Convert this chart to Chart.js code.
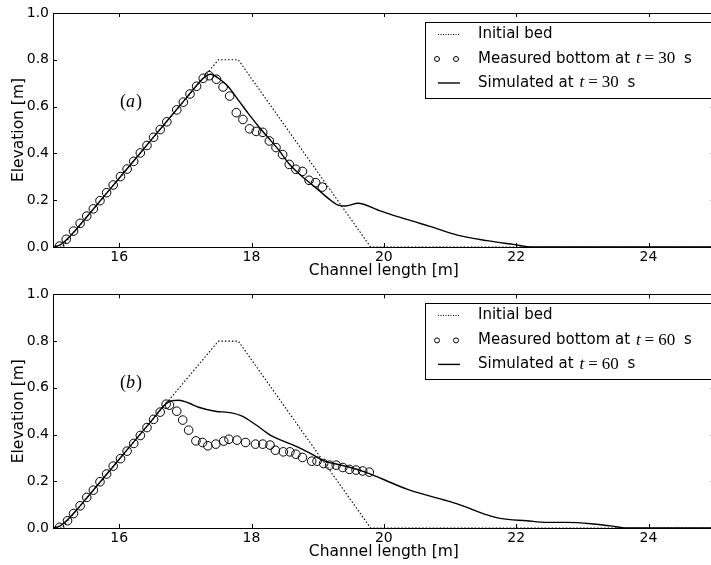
<!DOCTYPE html>
<html>
<head>
<meta charset="utf-8">
<script src="https://cdn.jsdelivr.net/npm/chart.js@4.4.0/dist/chart.umd.min.js"></script>
<style>
html, body { margin: 0; padding: 0; background: #fff; overflow: hidden; width: 711px; height: 565px; }
canvas { position: absolute; left: 0; }
#c1 { top: 0; }
#c2 { top: 282px; }
</style>
</head>
<body>
<canvas id="c1" width="720" height="282"></canvas>
<canvas id="c2" width="720" height="283"></canvas>
<script>
// tick values
var xTicks = [16, 18, 20, 22, 24];
var yTicks = [0, 0.2, 0.4, 0.6, 0.8, 1.0];

// initial bed (same for both panels)
var bedX = [15, 15.13, 17.5, 17.8, 19.8, 25];
var bedY = [0, 0, 0.8, 0.8, 0, 0];

// panel (a): t = 30 s
var measAX = [15.1, 15.2, 15.31, 15.41, 15.51, 15.61, 15.71, 15.81, 15.91, 16.02, 16.12, 16.22, 16.32, 16.42, 16.52, 16.62, 16.72, 16.87, 16.97, 17.07,
              17.17, 17.27, 17.36, 17.47, 17.57, 17.67, 17.77, 17.87, 17.97, 18.07, 18.17, 18.27, 18.37, 18.47, 18.57, 18.67, 18.77, 18.87, 18.97, 19.07];
var measAY = [0.004, 0.033, 0.068, 0.101, 0.132, 0.163, 0.198, 0.232, 0.265, 0.301, 0.333, 0.366, 0.402, 0.434, 0.469, 0.502, 0.535, 0.586, 0.619, 0.654,
              0.687, 0.721, 0.732, 0.717, 0.684, 0.645, 0.574, 0.545, 0.505, 0.494, 0.490, 0.453, 0.425, 0.395, 0.353, 0.332, 0.323, 0.285, 0.275, 0.256];
var simAX = [15, 15.1, 15.2, 15.35, 15.5, 16.0, 16.5, 17.0, 17.2, 17.3, 17.38, 17.5, 17.65, 17.8, 17.95, 18.11, 18.26, 18.41, 18.56, 18.71, 18.86,
             19.01, 19.16, 19.31, 19.42, 19.61, 19.91, 20.21, 20.5, 20.71, 21.11, 21.56, 21.96, 22.25, 25];
var simAY = [0, 0.008, 0.03, 0.075, 0.125, 0.294, 0.463, 0.632, 0.70, 0.728, 0.738, 0.721, 0.685, 0.628, 0.571, 0.514, 0.465, 0.415, 0.358, 0.315, 0.279,
             0.244, 0.208, 0.179, 0.175, 0.187, 0.158, 0.13, 0.105, 0.087, 0.051, 0.027, 0.011, 0, 0];

// panel (b): t = 60 s
var measBX = [15.1, 15.22, 15.31, 15.41, 15.51, 15.61, 15.71, 15.81, 15.91, 16.02, 16.12, 16.22, 16.32, 16.42, 16.52, 16.62, 16.71, 16.76, 16.87, 16.96,
              17.05, 17.16, 17.26, 17.34, 17.46, 17.58, 17.66, 17.78, 17.91, 18.06, 18.17, 18.28, 18.36, 18.48, 18.58, 18.67, 18.77, 18.91, 18.99, 19.09,
              19.18, 19.28, 19.38, 19.48, 19.58, 19.68, 19.78];
var measBY = [0.003, 0.031, 0.062, 0.095, 0.131, 0.162, 0.198, 0.231, 0.265, 0.297, 0.329, 0.362, 0.396, 0.430, 0.465, 0.496, 0.530, 0.526, 0.50, 0.462,
              0.419, 0.373, 0.366, 0.352, 0.359, 0.372, 0.380, 0.376, 0.366, 0.359, 0.359, 0.355, 0.333, 0.326, 0.326, 0.316, 0.302, 0.286, 0.286, 0.276,
              0.269, 0.269, 0.259, 0.251, 0.248, 0.244, 0.239];
var simBX = [15, 15.1, 15.2, 15.35, 15.5, 16.0, 16.5, 16.7, 16.8, 16.9, 17.05, 17.2, 17.45, 17.7, 17.85, 18.06, 18.31, 18.51, 18.71, 18.91, 19.11,
             19.31, 19.51, 19.71, 19.96, 20.36, 20.91, 21.16, 21.56, 21.76, 22.16, 22.46, 22.77, 23.17, 23.42, 23.67, 25];
var simBY = [0, 0.008, 0.03, 0.075, 0.125, 0.294, 0.463, 0.53, 0.545, 0.547, 0.535, 0.517, 0.50, 0.493, 0.48, 0.443, 0.393, 0.369, 0.345, 0.316, 0.286,
             0.272, 0.258, 0.24, 0.212, 0.165, 0.12, 0.098, 0.056, 0.041, 0.031, 0.024, 0.024, 0.017, 0.009, 0, 0];

var SANS = '"DejaVu Sans", sans-serif';
var SERIF = '"Liberation Serif", serif';

Chart.defaults.font.family = SANS;
Chart.defaults.font.size = 14;
Chart.defaults.color = '#000';

function pts(xs, ys) {
    return xs.map(function(x, i) { return {x: x, y: ys[i]}; });
}

// frame, inside ticks, legend box and panel label
var decor = {
    id: 'decor',
    afterDraw: function(chart) {
        var o = chart.options.plugins.decor;
        var ctx = chart.ctx, a = chart.chartArea;
        var xs = chart.scales.x, ys = chart.scales.y;
        ctx.save();
        ctx.strokeStyle = '#000';
        ctx.lineWidth = 1;
        ctx.strokeRect(Math.round(a.left) + 0.5, Math.round(a.top) + 0.5, Math.round(a.right - a.left), Math.round(a.bottom - a.top));
        ctx.beginPath();
        xTicks.forEach(function(v) {
            var px = Math.round(xs.getPixelForValue(v)) + 0.5;
            ctx.moveTo(px, a.bottom); ctx.lineTo(px, a.bottom - 4);
            ctx.moveTo(px, a.top); ctx.lineTo(px, a.top + 4);
        });
        yTicks.forEach(function(v) {
            var py = Math.round(ys.getPixelForValue(v)) + 0.5;
            ctx.moveTo(a.left, py); ctx.lineTo(a.left + 4, py);
            ctx.moveTo(a.right, py); ctx.lineTo(a.right - 4, py);
        });
        ctx.stroke();

        // legend
        var bx = 425.5, by = Math.round(a.top) + 9.5;
        ctx.fillStyle = '#fff';
        ctx.fillRect(bx, by, 300, 76);
        ctx.strokeRect(bx, by, 300, 76);
        var r1 = a.top + 21, r2 = a.top + 46, r3 = a.top + 70;
        ctx.beginPath();
        ctx.setLineDash([1, 1.5]);
        ctx.moveTo(438, Math.round(r1) + 0.5); ctx.lineTo(460, Math.round(r1) + 0.5);
        ctx.stroke();
        ctx.setLineDash([]);
        ctx.beginPath();
        ctx.arc(437, r2, 2.5, 0, Math.PI * 2);
        ctx.moveTo(458.5, r2);
        ctx.arc(456, r2, 2.5, 0, Math.PI * 2);
        ctx.stroke();
        ctx.beginPath();
        ctx.lineWidth = 1.4;
        ctx.moveTo(438, r3); ctx.lineTo(460, r3);
        ctx.stroke();

        ctx.fillStyle = '#000';
        ctx.textBaseline = 'middle';
        ctx.textAlign = 'left';
        ctx.font = '15px ' + SANS;
        ctx.fillText('Initial bed', 478, r1);
        function mathRow(label, y) {
            var x = 478;
            ctx.font = '15px ' + SANS;
            ctx.fillText(label, x, y);
            x += ctx.measureText(label).width + 1;
            ctx.font = 'italic 17px ' + SERIF;
            ctx.fillText('t', x, y);
            x += ctx.measureText('t').width + 4;
            ctx.font = '17px ' + SERIF;
            ctx.fillText('=', x, y);
            x += ctx.measureText('=').width + 4;
            ctx.fillText(o.t, x, y);
            x += ctx.measureText(o.t).width + 4;
            ctx.font = '15px ' + SANS;
            ctx.fillText(' s', x, y);
        }
        mathRow('Measured bottom at ', r2);
        mathRow('Simulated at ', r3);

        // panel label
        var ly = a.top + 89, lx = 120;
        ctx.font = '18px ' + SERIF;
        ctx.fillText('(', lx, ly);
        lx += ctx.measureText('(').width;
        ctx.font = 'italic 18px ' + SERIF;
        ctx.fillText(o.label, lx, ly);
        lx += ctx.measureText(o.label).width + 1;
        ctx.font = '18px ' + SERIF;
        ctx.fillText(')', lx, ly);
        ctx.restore();
    }
};

function makeChart(id, measX, measY, simX, simY, label, t, padTop, xAxisH, titlePad) {
    return new Chart(document.getElementById(id), {
        type: 'line',
        data: {
            datasets: [{
                label: 'Initial bed',
                data: pts(bedX, bedY),
                borderColor: '#000',
                borderWidth: 1.1,
                borderDash: [1.5, 2],
                pointRadius: 0,
                order: 3
            }, {
                label: 'Measured bottom',
                data: pts(measX, measY),
                showLine: false,
                pointStyle: 'circle',
                pointRadius: 4.3,
                pointBorderWidth: 1,
                pointBorderColor: '#000',
                pointBackgroundColor: 'rgba(0,0,0,0)',
                order: 2
            }, {
                label: 'Simulated',
                data: pts(simX, simY),
                borderColor: '#000',
                borderWidth: 1.4,
                pointRadius: 0,
                cubicInterpolationMode: 'monotone',
                order: 1
            }]
        },
        options: {
            responsive: false,
            animation: false,
            devicePixelRatio: 1,
            layout: { padding: { top: padTop, right: 1.5, left: 0, bottom: 0 } },
            plugins: {
                legend: { display: false },
                tooltip: { enabled: false },
                decor: { label: label, t: t }
            },
            scales: {
                x: {
                    type: 'linear',
                    min: 15,
                    max: 25,
                    afterBuildTicks: function(s) { s.ticks = xTicks.map(function(v) { return {value: v}; }); },
                    afterFit: function(s) { s.height = xAxisH; },
                    grid: { display: false, drawTicks: false },
                    border: { display: false },
                    ticks: { padding: 2, maxRotation: 0, autoSkip: false, font: { size: 14 } },
                    title: { display: true, text: 'Channel length [m]', font: { size: 15.5 }, padding: { top: 0, bottom: titlePad } }
                },
                y: {
                    min: 0,
                    max: 1,
                    afterBuildTicks: function(s) { s.ticks = yTicks.map(function(v) { return {value: v}; }); },
                    afterFit: function(s) { s.width = 53; },
                    grid: { display: false, drawTicks: false },
                    border: { display: false },
                    ticks: { padding: 4, font: { size: 14 }, callback: function(v) { return v.toFixed(1); } },
                    title: { display: true, text: 'Elevation [m]', font: { size: 15.5 }, padding: { top: 10, bottom: 0 } }
                }
            }
        },
        plugins: [decor]
    });
}

makeChart('c1', measAX, measAY, simAX, simAY, 'a', '30', 13, 35, 2);
makeChart('c2', measBX, measBY, simBX, simBY, 'b', '60', 12, 37, 4);
</script>
</body>
</html>
